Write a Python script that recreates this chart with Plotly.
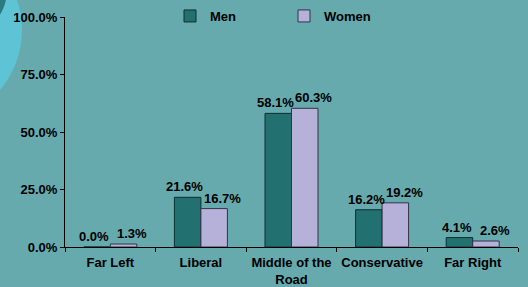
import plotly.graph_objects as go

categories = ["Far Left", "Liberal", "Middle of the<br>Road", "Conservative", "Far Right"]
men = [0.0, 21.6, 58.1, 16.2, 4.1]
women = [1.3, 16.7, 60.3, 19.2, 2.6]
y_ticks = [0, 25, 50, 75, 100]

BG = "#66aaae"
FONT = dict(family="Liberation Sans, Arial, sans-serif", size=13, color="#000000")

fig = go.Figure()
fig.add_bar(x=categories, y=men, name="<b>Men</b>",
            marker=dict(color="#237071", line=dict(color="#0f2f30", width=1)))
fig.add_bar(x=categories, y=women, name="<b>Women</b>",
            marker=dict(color="#b5b1d9", line=dict(color="#333344", width=1)))

# value labels, anchored at each bar's data point (offset outward a little like the original)
annotations = []
for cat, v in zip(categories, men):
    annotations.append(dict(x=cat, y=v, xref="x", yref="y", text=f"<b>{v:.1f}%</b>",
                            showarrow=False, xanchor="center", yanchor="bottom",
                            xshift=-16, yshift=1, font=FONT))
for cat, v in zip(categories, women):
    annotations.append(dict(x=cat, y=v, xref="x", yref="y", text=f"<b>{v:.1f}%</b>",
                            showarrow=False, xanchor="center", yanchor="bottom",
                            xshift=22, yshift=1, font=FONT))

L, R, T, B = 65, 10, 17, 40
W, H = 528, 287
pw, ph = W - L - R, H - T - B

def px(x):
    return (x - L) / pw

def py(y):
    return (H - B - y) / ph

shapes = [
    dict(type="circle", xref="paper", yref="paper", layer="below",
         x0=px(-70.8 - 92.8), x1=px(-70.8 + 92.8), y0=py(30 + 92.8), y1=py(30 - 92.8),
         fillcolor="#5fc3d6", line=dict(width=0)),
    dict(type="circle", xref="paper", yref="paper", layer="below",
         x0=px(-40 - 47), x1=px(-40 + 47), y0=py(-10 + 47), y1=py(-10 - 47),
         fillcolor="#2a7a80", line=dict(width=0)),
]

fig.update_layout(
    width=W, height=H,
    margin=dict(l=L, r=R, t=T, b=B, autoexpand=False),
    paper_bgcolor=BG, plot_bgcolor="rgba(0,0,0,0)",
    barmode="group", bargap=0.415, bargroupgap=0,
    font=FONT,
    shapes=shapes,
    annotations=annotations,
    showlegend=True,
    legend=dict(orientation="h", x=px(170), y=py(16), xanchor="left", yanchor="middle",
                bgcolor="rgba(0,0,0,0)", entrywidth=69, entrywidthmode="pixels",
                font=FONT, itemwidth=30, tracegroupgap=0),
    xaxis=dict(showline=True, linecolor="#000000", linewidth=1, ticks="outside", ticklen=4,
               tickcolor="#000000", tickson="boundaries", showgrid=False, tickangle=0,
               ticklabelstandoff=3,
               tickfont=FONT, tickprefix="<b>", ticksuffix="</b>"),
    yaxis=dict(range=[0, 100], tickvals=y_ticks, ticktext=[f"<b>{v:.1f}%</b>" for v in y_ticks],
               showline=True, linecolor="#000000", linewidth=1, ticks="outside", ticklen=4,
               tickcolor="#000000", showgrid=False, zeroline=False, tickfont=FONT),
)

fig.write_html("out.html", config={"displayModeBar": False},
               post_script="document.body.style.margin='0';document.body.style.overflow='hidden';")
